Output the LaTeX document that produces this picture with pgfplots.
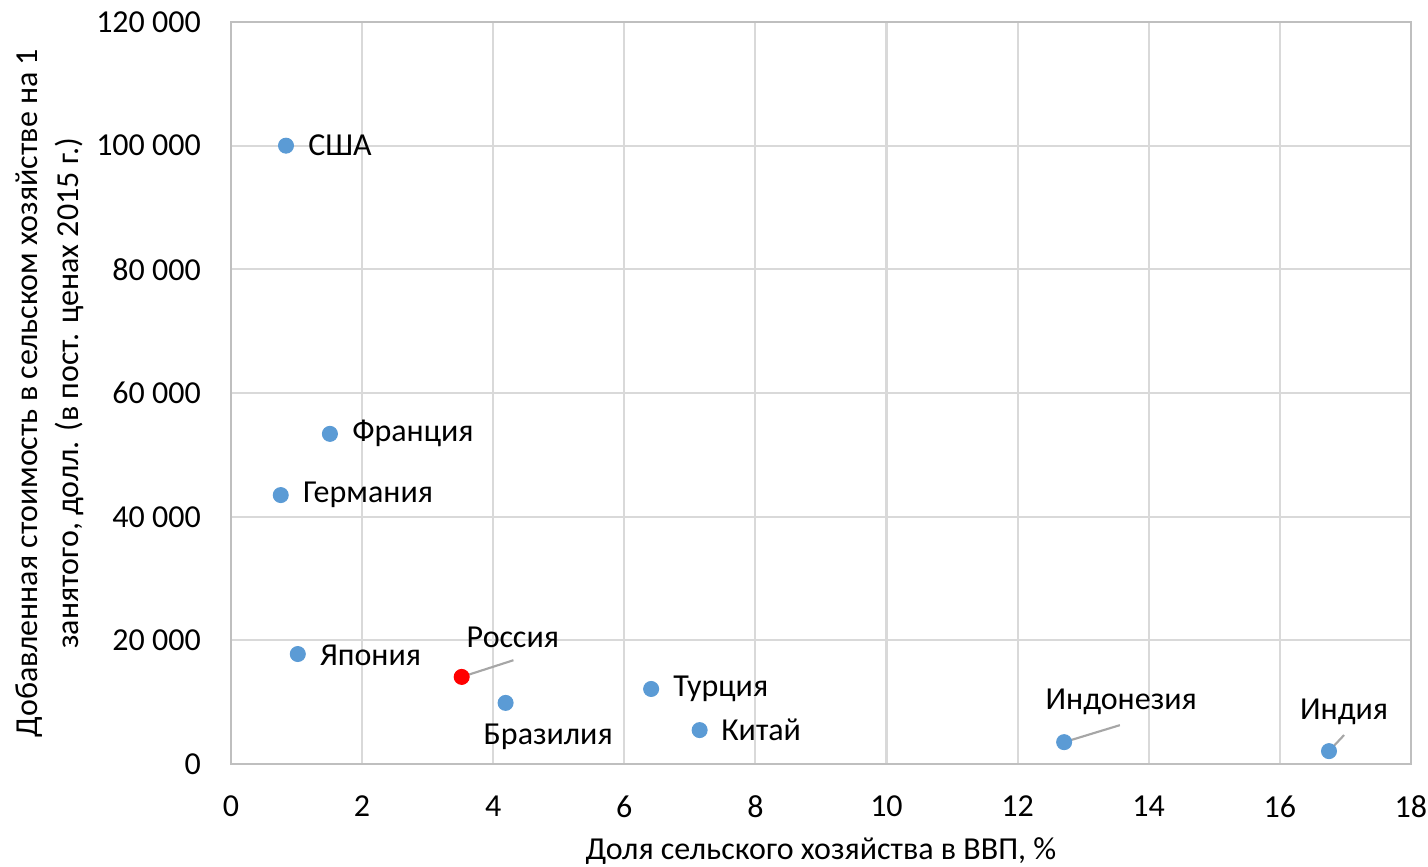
\documentclass[border=0pt]{standalone}
\usepackage{fontspec}
\setmainfont{Carlito}
\usepackage{pgfplots}
\pgfplotsset{compat=1.18}

\definecolor{ptblue}{HTML}{5B9BD5}
\definecolor{gridgray}{HTML}{D9D9D9}
\definecolor{axisgray}{HTML}{BFBFBF}
\definecolor{leadgray}{HTML}{A6A6A6}

\begin{document}
\fontsize{12pt}{14.4pt}\selectfont
\begin{tikzpicture}
  \begin{axis}[
    scale only axis,
    width=442.5pt,
    height=278.3pt,
    xmin=0, xmax=18,
    ymin=0, ymax=120000,
    xtick={0,2,4,6,8,10,12,14,16,18},
    xticklabels={0,2,4,6,8,10,12,14,16,18},
    ytick={0,20000,40000,60000,80000,100000,120000},
    yticklabels={0,20 000,40 000,60 000,80 000,100 000,120 000},
    scaled ticks=false,
    grid=major,
    major grid style={gridgray, line width=0.8pt},
    axis line style={axisgray, line width=0.8pt},
    tick style={draw=none},
    xticklabel style={yshift=-7.6pt},
    yticklabel style={xshift=-7.1pt},
    xlabel={Доля сельского хозяйства в ВВП, \%},
    xlabel style={at={(axis description cs:0.5,0)}, anchor=base, yshift=-35.6pt},
    ylabel={Добавленная стоимость в сельском хозяйстве на 1\\занятого, долл. (в пост. ценах 2015 г.)},
    ylabel style={at={(axis description cs:-0.1534,0.5)}, anchor=center, align=center,
      font=\fontsize{12pt}{15.6pt}\selectfont},
    clip=false,
  ]
    % страны
    \addplot[only marks, mark=*, mark size=2.8pt, color=ptblue] coordinates {
      (0.84,100000)
      (1.51,53400)
      (0.76,43500)
      (1.02,17800)
      (4.19,9900)
      (6.41,12150)
      (7.15,5500)
      (12.71,3550)
      (16.75,2100)
    };
    % Россия
    \addplot[only marks, mark=*, mark size=2.8pt, color=red] coordinates {
      (3.52,14100)
    };

    % выноски
    \draw[leadgray, line width=0.8pt] (axis cs:3.52,14100) -- (axis cs:4.31,16800);
    \draw[leadgray, line width=0.8pt] (axis cs:12.71,3550) -- (axis cs:13.56,6300);
    \draw[leadgray, line width=0.8pt] (axis cs:16.75,2100) -- (axis cs:16.98,4700);

    % подписи
    \node[anchor=west] at (axis cs:1.01,100000) {США};
    \node[anchor=west] at (axis cs:1.68,53400) {Франция};
    \node[anchor=west] at (axis cs:0.93,43500) {Германия};
    \node[anchor=west] at (axis cs:1.19,17600) {Япония};
    \node at (axis cs:4.30,20540) {Россия};
    \node at (axis cs:4.84,4370) {Бразилия};
    \node[anchor=west] at (axis cs:6.58,12130) {Турция};
    \node[anchor=west] at (axis cs:7.31,5500) {Китай};
    \node at (axis cs:13.58,10030) {Индонезия};
    \node at (axis cs:16.98,8410) {Индия};
  \end{axis}
  \pgfresetboundingbox
  \path[use as bounding box]
    ([xshift=-86.6pt,yshift=-38.25pt]current axis.south west)
    rectangle ([xshift=6.4pt,yshift=8.25pt]current axis.north east);
\end{tikzpicture}
\end{document}
